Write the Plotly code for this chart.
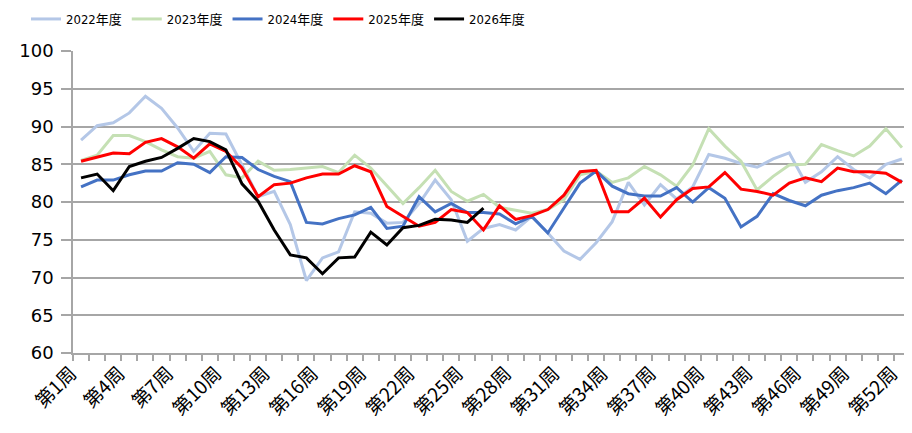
import plotly.graph_objects as go

weeks = list(range(1, 53))
week_labels = [f"第{w}周" for w in weeks]

fy2022 = [88.2, 90.1, 90.5, 91.8, 94.0, 92.4, 89.8, 86.7, 89.1, 89.0,
          84.9, 80.7, 81.4, 77.0, 69.6, 72.6, 73.4, 78.7, 78.5, 77.2,
          77.3, 79.8, 82.9, 80.3, 74.8, 76.5, 77.0, 76.3, 78.1, 75.9,
          73.5, 72.4, 74.6, 77.4, 82.6, 79.6, 82.3, 80.4, 82.0, 86.3,
          85.8, 85.1, 84.6, 85.7, 86.5, 82.6, 84.0, 86.0, 84.3, 83.2,
          85.0, 85.7]
fy2023 = [85.5, 86.2, 88.8, 88.8, 88.0, 86.9, 86.0, 85.8, 86.7, 83.6,
          83.2, 85.4, 84.2, 84.3, 84.5, 84.7, 83.9, 86.2, 84.5, 82.1,
          79.8, 81.9, 84.2, 81.4, 80.1, 81.0, 79.3, 78.9, 78.5, 79.0,
          80.3, 83.6, 84.1, 82.6, 83.2, 84.7, 83.6, 82.1, 84.9, 89.7,
          87.4, 85.4, 81.6, 83.4, 84.9, 85.0, 87.6, 86.8, 86.1, 87.4,
          89.7, 87.2]
fy2024 = [82.0, 82.9, 82.9, 83.6, 84.1, 84.1, 85.2, 85.0, 83.9, 86.0,
          85.9, 84.3, 83.4, 82.7, 77.3, 77.1, 77.8, 78.3, 79.3, 76.5,
          76.8, 80.7, 78.7, 79.8, 78.6, 78.6, 78.4, 77.1, 78.1, 75.9,
          79.2, 82.5, 84.1, 82.1, 81.1, 80.8, 80.8, 81.9, 80.0, 81.9,
          80.5, 76.7, 78.1, 81.1, 80.2, 79.5, 80.9, 81.5, 81.9, 82.5,
          81.1, 82.9]
fy2025 = [85.4, 85.9, 86.5, 86.4, 87.9, 88.4, 87.3, 85.8, 87.7, 86.7,
          84.5, 80.7, 82.3, 82.5, 83.2, 83.7, 83.7, 84.8, 84.0, 79.4,
          78.1, 76.8, 77.3, 79.0, 78.6, 76.3, 79.5, 77.7, 78.2, 79.0,
          80.9, 84.0, 84.2, 78.7, 78.7, 80.5, 78.0, 80.3, 81.8, 82.0,
          83.9, 81.7, 81.4, 80.9, 82.5, 83.2, 82.7, 84.5, 84.0, 84.0,
          83.8, 82.6]
fy2026 = [83.2, 83.7, 81.5, 84.7, 85.4, 85.9, 87.1, 88.4, 88.0, 86.9,
          82.4, 80.1, 76.3, 73.0, 72.6, 70.5, 72.6, 72.7, 76.0, 74.3,
          76.6, 76.9, 77.7, 77.6, 77.3, 79.2]

series = [
    ("2022年度", fy2022, "#B4C7E7"),
    ("2023年度", fy2023, "#C5E0B4"),
    ("2024年度", fy2024, "#4472C4"),
    ("2025年度", fy2025, "#FF0000"),
    ("2026年度", fy2026, "#000000"),
]

fig = go.Figure()
for name, vals, color in series:
    fig.add_trace(go.Scatter(
        x=weeks[:len(vals)],
        y=vals,
        name=name,
        mode="lines",
        line=dict(color=color, width=3),
    ))

# page body has an 8px margin, so the figure is 8px smaller each way
W, H = 904, 425
grid = "#A6A6A6"
fig.update_layout(
    width=W,
    height=H,
    margin=dict(l=65, r=2, t=43, b=80, autoexpand=False),
    paper_bgcolor="white",
    plot_bgcolor="white",
    showlegend=True,
    legend=dict(
        orientation="h",
        xref="container", yref="container",
        x=18 / W, y=1 - 11 / H, xanchor="left", yanchor="middle",
        font=dict(family="Liberation Sans Narrow, DejaVu Sans Condensed, Noto Sans CJK JP",
                  size=13, color="#000000"),
        bgcolor="rgba(0,0,0,0)",
    ),
    xaxis=dict(
        range=[0.5, 52.5],
        tickmode="array",
        tickvals=weeks[::3],
        ticktext=week_labels[::3],
        tickangle=-45,
        ticks="",
        ticklabelshift=-10,
        showgrid=False,
        showline=True,
        linecolor=grid,
        linewidth=1.5,
        zeroline=False,
        minor=dict(ticks="outside", tick0=0.5, dtick=1, ticklen=6,
                   tickcolor=grid, tickwidth=1.5, showgrid=False),
        tickfont=dict(family="Noto Sans CJK JP", size=19, color="#000000"),
    ),
    yaxis=dict(
        range=[60, 100],
        dtick=5,
        showgrid=True,
        gridcolor=grid,
        gridwidth=1.5,
        showline=True,
        linecolor=grid,
        linewidth=1.5,
        ticks="outside",
        ticklen=10,
        tickcolor=grid,
        tickwidth=1.5,
        ticklabelstandoff=4,
        zeroline=False,
        tickfont=dict(family="DejaVu Sans", size=18, color="#000000"),
    ),
)

fig.write_html("out.html")
